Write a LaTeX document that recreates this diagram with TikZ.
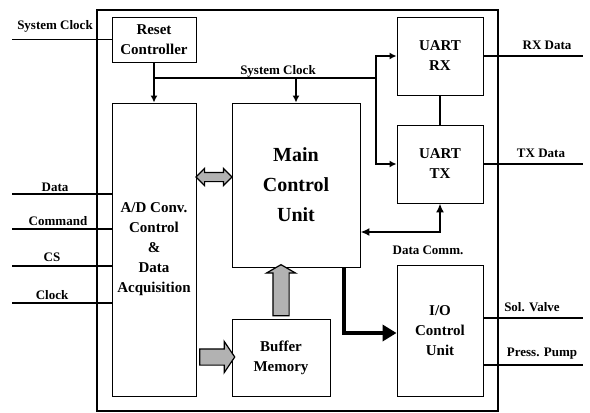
\documentclass[tikz,border=0pt]{standalone}
\usepackage{fontspec}
\setmainfont{Liberation Serif}
\usepackage{tikz}
\usetikzlibrary{arrows.meta,positioning,shapes.arrows,calc}

\begin{document}
\begin{tikzpicture}[
    x=1pt, y=-1pt,
    block/.style={draw, line width=0.9pt, fill=white, align=center, inner sep=0pt,
                  font=\fontsize{15}{20}\selectfont\bfseries},
    lbl/.style={font=\fontsize{13}{15}\selectfont\bfseries, inner sep=1pt},
    sig/.style={line width=1.7pt},
    arr/.style={line width=1.4pt, -{Latex[length=7pt,width=7pt]}},
    fatarrow/.style={draw, line width=1.2pt, fill=gray!60, inner xsep=0pt},
    bigarr/.style={line width=4.5pt, -{Triangle[length=14pt,width=16pt]}}
]
  \useasboundingbox (0,0) rectangle (590,413);

  % outer frame
  \draw[line width=2.3pt] (97,10) rectangle (498,411);

  \node[block, minimum width=84pt, minimum height=45pt] (reset) at (154,39.5) {Reset\\Controller};
  \node[block, minimum width=84pt, minimum height=293pt] (ad) at (154,249.5)
       {A/D Conv.\\Control\\\&\\Data\\Acquisition};
  \node[block, minimum width=128pt, minimum height=164pt,
        font=\fontsize{20}{30}\selectfont\bfseries] (main) at (296,185) {Main\\Control\\Unit};
  \node[block, minimum width=98pt, minimum height=77pt] (buffer) at (281,357.5) {Buffer\\Memory};
  \node[block, minimum width=86pt, minimum height=78pt] (uartrx) at (440,56) {UART\\RX};
  \node[block, minimum width=86pt, minimum height=78pt] (uarttx) at (440,164) {UART\\TX};
  \node[block, minimum width=86pt, minimum height=131pt] (io) at (440,330.5) {I/O\\Control\\Unit};

  % inputs
  \coordinate (sysclkin) at (12,39.5);
  \coordinate (datain) at (12,194);
  \coordinate (cmdin) at (12,229);
  \coordinate (csin) at (12,266);
  \coordinate (clkin) at (12,303);
  \draw[sig] (sysclkin) -- (reset.west);
  \draw[sig] (datain) -- (ad.west |- datain);
  \draw[sig] (cmdin) -- (ad.west |- cmdin);
  \draw[sig] (csin) -- (ad.west |- csin);
  \draw[sig] (clkin) -- (ad.west |- clkin);
  \node[lbl] (lsysclk) at (55,26) {System Clock};
  \node[lbl] (ldata) at (55,187) {Data};
  \node[lbl] (lcmd) at (58,221) {Command};
  \node[lbl] (lcs) at (52,257) {CS};
  \node[lbl] (lclk) at (52,295) {Clock};

  % outputs
  \coordinate (rxout) at (583,56);
  \coordinate (txout) at (583,164);
  \coordinate (valveout) at (583,318);
  \coordinate (pumpout) at (583,365);
  \draw[sig] (uartrx.east) -- (rxout);
  \draw[sig] (uarttx.east) -- (txout);
  \draw[sig] (io.east |- valveout) -- (valveout);
  \draw[sig] (io.east |- pumpout) -- (pumpout);
  \node[lbl] (lrx) at (547,45) {RX Data};
  \node[lbl] (ltx) at (541,153) {TX Data};
  \node[lbl] (lvalve) at (532,307) {Sol. Valve};
  \node[lbl] (lpump) at (542,354) {Press. Pump};

  % system clock distribution
  \coordinate (clkjoin) at (154,78);
  \coordinate (clkbus) at (376,78);
  \draw[line width=1.4pt] (reset.south) -- (clkjoin) -- (clkbus);
  \draw[arr] (clkjoin) -- (ad.north);
  \draw[arr] (main.north |- clkjoin) -- (main.north);
  \draw[arr] (clkbus) |- (uartrx.west);
  \draw[arr] (clkbus) |- (uarttx.west);
  \node[lbl] (lbus) at (278,71) {System Clock};

  \draw[line width=1.4pt] (uartrx) -- (uarttx);

  % data comm.
  \coordinate (commbend) at (440,232);
  \draw[line width=1.8pt, {Latex[length=9pt,width=8pt]}-{Latex[length=9pt,width=8pt]}]
       (main.east |- commbend) -| (uarttx.south);
  \node[lbl] (lcomm) at (428,250) {Data Comm.};

  % control to I/O
  \coordinate (ioturn) at (344,333);
  \draw[bigarr] (main.south -| ioturn) |- (io.west |- ioturn);

  % bus arrows
  \node[fatarrow, double arrow, minimum height=36pt, inner ysep=4pt,
        double arrow head extend=4pt] (admain) at (214,177) {};
  \node[fatarrow, single arrow, minimum height=35pt, inner ysep=7.5pt,
        single arrow head extend=7.5pt, single arrow tip angle=112] (adbuf) at (214.5,357) {};
  \node[fatarrow, single arrow, minimum height=51pt, inner ysep=7.5pt, rotate=90,
        single arrow head extend=6.5pt, single arrow tip angle=120] (bufmain) at (281,292.5) {};
\end{tikzpicture}
\end{document}
